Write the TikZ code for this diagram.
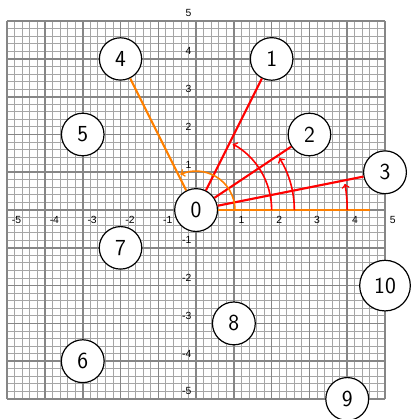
\documentclass[tikz,border=0pt]{standalone}
\usepackage{fontspec}
\newfontfamily\axisfont{Liberation Sans}
\begin{document}
\begin{tikzpicture}[
  num/.style={circle, draw, line width=0.9pt, fill=white, inner sep=6.4pt, font=\LARGE\sffamily},
  ax/.style={font=\axisfont\fontsize{7.8}{9}\selectfont, inner sep=0pt},
  minorgrid/.style={gray!70, line width=0.7pt},
  majorgrid/.style={gray!95, line width=1.2pt},
  ray/.style={line width=1.6pt},
  ang/.style={line width=1.2pt, ->},
]
\useasboundingbox (-5.19,-5.53) rectangle (5.69,5.56);
\draw[minorgrid, step=0.2] (-5,-5) grid (5,5);
\draw[majorgrid, step=1] (-5,-5) grid (5,5);
\foreach \x in {-5,-4,-3,-2,-1,1,2,3,4,5}
  \node[ax, anchor=base west] (xl\x) at (\x+0.12,-0.36) {\x};
\foreach \y in {-5,-4,-3,-2,-1,1,2,3,4,5}
  \node[ax, anchor=base east] (yl\y) at (-0.12,\y+0.11) {\y};
\node[num] (n0) at (0,0) {0};
\node[num] (n1) at (2,4) {1};
\node[num] (n2) at (3,2) {2};
\node[num] (n3) at (5,1) {3};
\node[num] (n4) at (-2,4) {4};
\node[num] (n5) at (-3,2) {5};
\node[num] (n6) at (-3,-4) {6};
\node[num] (n7) at (-2,-1) {7};
\node[num] (n8) at (1,-3) {8};
\node[num] (n9) at (4,-5) {9};
\node[num] (n10) at (5,-2) {10};
\coordinate (xe) at (4.6,0);
\draw[orange, ray] (n0) -- (xe);
\draw[orange, ray] (n0) -- (n4);
\draw[red, ray] (n0) -- (n1);
\draw[red, ray] (n0) -- (n2);
\draw[red, ray] (n0) -- (n3);
\draw[red, ang] (2,0) arc[start angle=0, end angle=61, radius=2];
\draw[red, ang] (2.6,0) arc[start angle=0, end angle=32, radius=2.6];
\draw[red, ang] (4,0) arc[start angle=0, end angle=10, radius=4];
\draw[orange, ang] (1.03,0) arc[start angle=0, end angle=114, radius=1.03];
\end{tikzpicture}
\end{document}
